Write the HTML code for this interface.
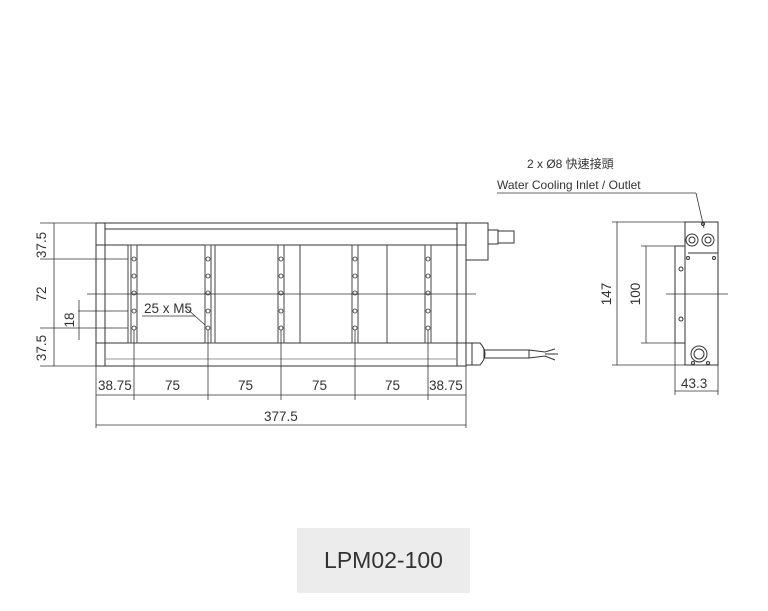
<!DOCTYPE html>
<html><head><meta charset="utf-8"><style>
body{margin:0;background:#fff;width:768px;height:611px;overflow:hidden;position:relative;font-family:"Liberation Sans","Noto Sans CJK TC",sans-serif}
.box{position:absolute;left:297px;top:528px;width:173px;height:65px;background:#ececec;color:#333;font-size:23px;text-align:center;line-height:65px}
</style></head><body>
<svg width="768" height="611" style="position:absolute;left:0;top:0" font-family="Liberation Sans, Noto Sans CJK TC, sans-serif" fill="none" stroke="#333" stroke-width="1">
<rect x="96" y="223" width="370" height="143"/>
<line x1="105" y1="223" x2="105" y2="366"/>
<line x1="457" y1="223" x2="457" y2="366"/>
<line x1="105" y1="229" x2="457" y2="229"/>
<line x1="96" y1="245" x2="466" y2="245"/>
<line x1="96" y1="343" x2="466" y2="343"/>
<line x1="105" y1="359" x2="457" y2="359" stroke="#999"/>
<g stroke="#444">
<rect x="128" y="245" width="9" height="98"/><line x1="131" y1="245" x2="131" y2="343"/>
<rect x="205" y="245" width="10" height="98"/><line x1="211" y1="245" x2="211" y2="343"/>
<rect x="278" y="245" width="6" height="98"/>
<line x1="300" y1="245" x2="300" y2="343"/>
<rect x="352" y="245" width="6" height="98"/>
<line x1="387" y1="245" x2="387" y2="343"/>
<rect x="425" y="245" width="6" height="98"/>
</g>
<g stroke-width="0.8">
<circle cx="134" cy="259" r="2"/><circle cx="134" cy="276" r="2"/><circle cx="134" cy="293" r="2"/><circle cx="134" cy="311" r="2"/><circle cx="134" cy="328" r="2"/>
<circle cx="208" cy="259" r="2"/><circle cx="208" cy="276" r="2"/><circle cx="208" cy="293" r="2"/><circle cx="208" cy="311" r="2"/><circle cx="208" cy="328" r="2"/>
<circle cx="281" cy="259" r="2"/><circle cx="281" cy="276" r="2"/><circle cx="281" cy="293" r="2"/><circle cx="281" cy="311" r="2"/><circle cx="281" cy="328" r="2"/>
<circle cx="355" cy="259" r="2"/><circle cx="355" cy="276" r="2"/><circle cx="355" cy="293" r="2"/><circle cx="355" cy="311" r="2"/><circle cx="355" cy="328" r="2"/>
<circle cx="428" cy="259" r="2"/><circle cx="428" cy="276" r="2"/><circle cx="428" cy="293" r="2"/><circle cx="428" cy="311" r="2"/><circle cx="428" cy="328" r="2"/>
</g>
<line x1="87" y1="294" x2="476" y2="294" stroke-width="0.8"/>
<rect x="466" y="223" width="22" height="37"/>
<rect x="488" y="230" width="10" height="14"/><rect x="498" y="231" width="16" height="12"/>
<rect x="466" y="343" width="6" height="22"/>
<path d="M472 343 L480 343 Q490 354 480 365 L472 365Z"/>
<rect x="484" y="350" width="45" height="8"/>
<path d="M529 350 L545 352 L555 349 M529 358 L545 356 L555 360 M545 354 L558 354"/>
<g stroke-width="0.8">
<line x1="40" y1="223" x2="96" y2="223"/><line x1="40" y1="259" x2="128" y2="259"/>
<line x1="40" y1="328" x2="128" y2="328"/><line x1="40" y1="366" x2="96" y2="366"/>
<line x1="78" y1="311" x2="128" y2="311"/>
<line x1="54" y1="223" x2="54" y2="366"/>
<line x1="79" y1="300" x2="79" y2="340"/>
<line x1="96" y1="366" x2="96" y2="428"/><line x1="466" y1="366" x2="466" y2="428"/>
<line x1="134" y1="330" x2="134" y2="400"/><line x1="208" y1="330" x2="208" y2="400"/>
<line x1="281" y1="330" x2="281" y2="400"/><line x1="355" y1="330" x2="355" y2="400"/><line x1="428" y1="330" x2="428" y2="400"/>
<line x1="96" y1="395" x2="466" y2="395"/>
<line x1="96" y1="425" x2="466" y2="425"/>
<line x1="185" y1="307" x2="205" y2="325"/>
<line x1="142" y1="316" x2="195" y2="316"/>
</g>
<rect x="685" y="222" width="33" height="143"/>
<rect x="675" y="246" width="10" height="97"/>
<line x1="688" y1="253" x2="718" y2="253"/>
<circle cx="692" cy="240" r="6"/><circle cx="692" cy="240" r="3"/>
<circle cx="708" cy="240" r="6"/><circle cx="708" cy="240" r="3"/>
<circle cx="703" cy="224" r="1.5"/><circle cx="688" cy="258" r="1.5"/><circle cx="714" cy="258" r="1.5"/>
<circle cx="681" cy="269" r="2"/><circle cx="681" cy="319" r="2"/>
<circle cx="699" cy="354" r="8"/><circle cx="699" cy="354" r="5"/>
<circle cx="693" cy="363" r="1.5"/><circle cx="708" cy="363" r="1.5"/>
<g stroke-width="0.8">
<line x1="612" y1="222" x2="685" y2="222"/><line x1="612" y1="365" x2="685" y2="365"/>
<line x1="617" y1="222" x2="617" y2="365"/>
<line x1="641" y1="246" x2="675" y2="246"/><line x1="641" y1="343" x2="675" y2="343"/>
<line x1="646" y1="246" x2="646" y2="343"/>
<line x1="675" y1="343" x2="675" y2="395"/><line x1="718" y1="365" x2="718" y2="395"/>
<line x1="675" y1="391" x2="718" y2="391"/>
<line x1="666" y1="294" x2="728" y2="294"/>
<line x1="497" y1="193" x2="696" y2="193"/><line x1="696" y1="193" x2="704" y2="228"/>
</g>
<g fill="#333" stroke="none" font-size="13.5">
<text x="98" y="390">38.75</text><text x="165" y="390">75</text><text x="238" y="390">75</text>
<text x="312" y="390">75</text><text x="385" y="390">75</text><text x="429" y="390">38.75</text>
<text x="264" y="421">377.5</text>
<text x="144" y="313">25 x M5</text>
<text x="681" y="388">43.3</text>
<text transform="translate(46,245) rotate(-90)" text-anchor="middle">37.5</text>
<text transform="translate(46,294) rotate(-90)" text-anchor="middle">72</text>
<text transform="translate(46,348) rotate(-90)" text-anchor="middle">37.5</text>
<text transform="translate(74,320) rotate(-90)" text-anchor="middle">18</text>
<text transform="translate(611,294) rotate(-90)" text-anchor="middle">147</text>
<text transform="translate(640,294) rotate(-90)" text-anchor="middle">100</text>
<text x="527" y="168" font-size="12">2 x Ø8 快速接頭</text>
<text x="497" y="189" font-size="12">Water Cooling Inlet / Outlet</text>
</g>
</svg>
<div class="box">LPM02-100</div>
</body></html>
